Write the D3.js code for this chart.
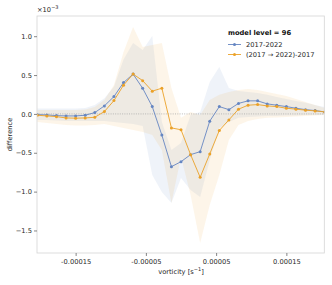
<!DOCTYPE html>
<html>
<head>
<meta charset="utf-8">
<script src="https://cdn.jsdelivr.net/npm/d3@7"></script>
<style>
  body { margin: 0; background: #fff; }
  svg text { font-family: "DejaVu Sans", sans-serif; }
</style>
</head>
<body>
<div id="chart"></div>
<script>
// vorticity bin centres [s^-1]
var vort = [-2.0455e-4, -1.9091e-4, -1.7727e-4, -1.6364e-4, -1.5e-4, -1.3636e-4, -1.2273e-4, -1.0909e-4,
            -0.9545e-4, -0.8182e-4, -0.6818e-4, -0.5455e-4, -0.4091e-4, -0.2727e-4, -0.1364e-4, 0,
            0.1364e-4, 0.2727e-4, 0.4091e-4, 0.5455e-4, 0.6818e-4, 0.8182e-4, 0.9545e-4, 1.0909e-4,
            1.2273e-4, 1.3636e-4, 1.5e-4, 1.6364e-4, 1.7727e-4, 1.9091e-4, 2.0455e-4];

// differences, in units of 1e-3
var diffA = [-0.009, -0.013, -0.022, -0.026, -0.026, -0.017, 0.017, 0.103, 0.223, 0.403, 0.512, 0.329, 0.094,
             -0.273, -0.679, -0.615, -0.524, -0.486, -0.093, 0.094, 0.055, 0.135, 0.168, 0.168, 0.129, 0.112,
             0.094, 0.073, 0.055, 0.043, 0.026];
var loA = [-0.077, -0.077, -0.084, -0.090, -0.090, -0.090, -0.090, -0.090, -0.103, -0.116, -0.129, -0.154, -0.785,
           -1.004, -1.145, -0.824, -0.978, -1.068, -0.592, -0.180, -0.103, -0.051, -0.039, -0.032, -0.026, -0.026,
           -0.019, -0.019, -0.013, -0.013, -0.013];
var hiA = [0.071, 0.071, 0.071, 0.071, 0.071, 0.077, 0.116, 0.200, 0.350, 0.700, 0.914, 0.824, 1.004,
           -0.103, -0.463, -0.373, -0.013, 0.026, 0.412, 0.605, 0.335, 0.296, 0.283, 0.270, 0.245, 0.219,
           0.193, 0.167, 0.142, 0.116, 0.090];

var diffB = [-0.017, -0.026, -0.035, -0.052, -0.055, -0.052, -0.043, 0.030, 0.171, 0.370, 0.512, 0.428, 0.293,
             0.331, -0.180, -0.204, -0.524, -0.816, -0.515, -0.213, -0.077, 0.061, 0.112, 0.120, 0.103, 0.094,
             0.073, 0.061, 0.048, 0.039, 0.026];
var loB = [-0.103, -0.116, -0.129, -0.142, -0.148, -0.148, -0.142, -0.129, -0.154, -0.180, -0.206, -0.232, -0.270,
           -0.463, -1.145, -0.553, -1.042, -1.660, -1.171, -0.785, -0.335, -0.142, -0.090, -0.064, -0.051, -0.045,
           -0.039, -0.032, -0.026, -0.019, -0.013];
var hiB = [0.051, 0.051, 0.051, 0.051, 0.051, 0.058, 0.090, 0.180, 0.373, 0.798, 1.120, 0.862, 0.888,
           0.914, 0.335, -0.051, 0.026, -0.013, 0.180, 0.245, 0.283, 0.309, 0.322, 0.309, 0.283, 0.257,
           0.232, 0.193, 0.154, 0.116, 0.077];

var xTicks = [-1.5e-4, -0.5e-4, 0.5e-4, 1.5e-4];
var xTickLabels = ["-0.00015", "-0.00005", "0.00005", "0.00015"];
var yTicks = [-1.5, -1.0, -0.5, 0.0, 0.5, 1.0];
var seriesNames = ["2017-2022", "(2017 \u2192 2022)-2017"];
var colors = ["#6586c2", "#eba128"];

var W = 332, H = 285;
var margin = {top: 16, right: 7.7, bottom: 32, left: 37},
    width = W - margin.left - margin.right,
    height = H - margin.top - margin.bottom;

var svg = d3.select("#chart").append("svg")
    .attr("width", W)
    .attr("height", H);

svg.append("defs").append("clipPath").attr("id", "clip")
  .append("rect").attr("width", width).attr("height", height);

var g = svg.append("g")
    .attr("transform", "translate(" + margin.left + "," + margin.top + ")");

var x = d3.scaleLinear().domain([-2.05e-4, 2.04e-4]).range([0, width]);
var y = d3.scaleLinear().domain([-1.79, 1.26]).range([height, 0]);

var plot = g.append("g").attr("clip-path", "url(#clip)");

var series = [
  {name: seriesNames[0], mean: diffA, lo: loA, hi: hiA, color: colors[0]},
  {name: seriesNames[1], mean: diffB, lo: loB, hi: hiB, color: colors[1]}
];

// shaded ranges
series.forEach(function(s) {
  var area = d3.area()
      .x(function(d, i) { return x(vort[i]); })
      .y0(function(d, i) { return y(s.lo[i]); })
      .y1(function(d, i) { return y(s.hi[i]); });
  plot.append("path")
      .datum(s.mean)
      .attr("d", area)
      .attr("fill", s.color)
      .attr("fill-opacity", 0.1);
});

// zero reference line
plot.append("line")
    .attr("x1", 0).attr("x2", width)
    .attr("y1", y(0)).attr("y2", y(0))
    .attr("stroke", "#aaaaaa")
    .attr("stroke-width", 0.8)
    .attr("stroke-dasharray", "1,1.3");

// lines + markers
series.forEach(function(s) {
  var line = d3.line()
      .x(function(d, i) { return x(vort[i]); })
      .y(function(d) { return y(d); });
  plot.append("path")
      .datum(s.mean)
      .attr("d", line)
      .attr("fill", "none")
      .attr("stroke", s.color)
      .attr("stroke-width", 0.9);
  plot.selectAll(null)
      .data(s.mean)
      .enter().append("circle")
      .attr("cx", function(d, i) { return x(vort[i]); })
      .attr("cy", function(d) { return y(d); })
      .attr("r", 1.5)
      .attr("fill", s.color);
});

// frame
g.append("rect")
    .attr("width", width).attr("height", height)
    .attr("fill", "none")
    .attr("stroke", "#d4d4d4")
    .attr("stroke-width", 0.8);

// axes
var xAxis = g.append("g")
    .attr("transform", "translate(0," + height + ")")
    .call(d3.axisBottom(x).tickValues(xTicks).tickSize(3)
      .tickFormat(function(d, i) { return xTickLabels[i]; }));
var yAxis = g.append("g")
    .call(d3.axisLeft(y).tickValues(yTicks).tickSize(3)
      .tickFormat(function(d) { return d3.format(".1f")(d).replace("-", "\u2212"); }));

[xAxis, yAxis].forEach(function(a) {
  a.select(".domain").remove();
  a.selectAll(".tick line").attr("stroke", "#555").attr("stroke-width", 0.7);
  a.selectAll(".tick text").attr("fill", "#262626").style("font-size", "6.7px");
});
xAxis.selectAll(".tick text").attr("dy", "0.75em").attr("y", 6);
yAxis.selectAll(".tick text").attr("x", -5);

// offset text
var off = svg.append("text")
    .attr("x", margin.left)
    .attr("y", 12)
    .attr("fill", "#262626")
    .style("font-size", "6.7px")
    .text("\u00d710");
off.append("tspan").attr("dy", -3).style("font-size", "5px").text("\u22123");

// axis labels
svg.append("text")
    .attr("transform", "translate(12," + (margin.top + height / 2) + ") rotate(-90)")
    .attr("text-anchor", "middle")
    .attr("fill", "#262626")
    .style("font-size", "6.7px")
    .text("difference");

var xl = svg.append("text")
    .attr("x", margin.left + x(0))
    .attr("y", 274)
    .attr("text-anchor", "middle")
    .attr("fill", "#262626")
    .style("font-size", "6.7px")
    .text("vorticity [s");
xl.append("tspan").attr("dy", -3).style("font-size", "5px").text("\u22121");
xl.append("tspan").attr("dy", 3).text("]");

// legend
var leg = svg.append("g").attr("transform", "translate(228,35)");
leg.append("text")
    .attr("x", 0).attr("y", 0)
    .attr("fill", "#111")
    .style("font-size", "6.7px")
    .style("font-weight", "bold")
    .text("model level = 96");
series.forEach(function(s, i) {
  var row = leg.append("g").attr("transform", "translate(0," + (9.5 + i * 10) + ")");
  row.append("line")
      .attr("x1", 0).attr("x2", 13).attr("y1", 0).attr("y2", 0)
      .attr("stroke", s.color).attr("stroke-width", 0.9);
  row.append("circle").attr("cx", 6.5).attr("cy", 0).attr("r", 1.5).attr("fill", s.color);
  row.append("text")
      .attr("x", 18).attr("y", 0).attr("dy", "0.35em")
      .attr("fill", "#262626")
      .style("font-size", "6.7px")
      .text(s.name);
});
</script>
</body>
</html>
